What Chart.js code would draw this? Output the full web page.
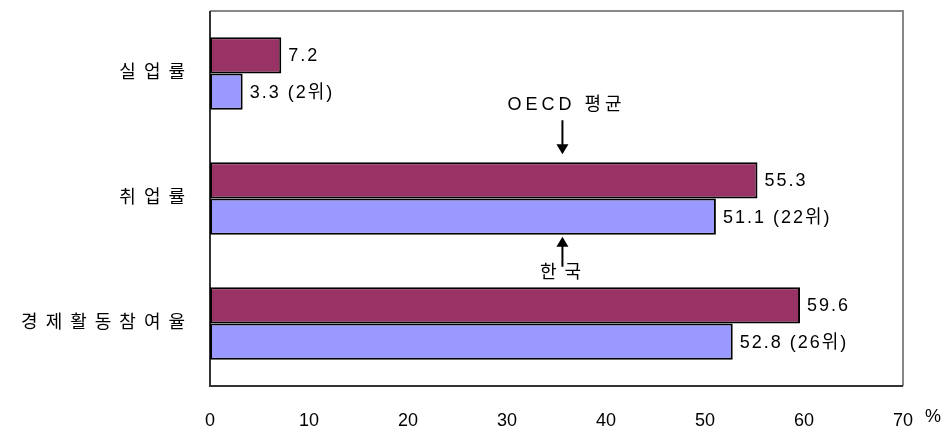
<!DOCTYPE html>
<html>
<head>
<meta charset="utf-8">
<script src="https://cdn.jsdelivr.net/npm/chart.js@4"></script>
<style>
  html, body { margin: 0; background: #fff; }
  #wrap { width: 943px; height: 428px; }
</style>
</head>
<body>
<div id="wrap"><canvas id="chart"></canvas></div>
<script>
const categories = ['실업률', '취업률', '경제활동참여율'];
const seriesNames = ['OECD 평균', '한국'];
const oecdValues = [7.2, 55.3, 59.6];
const koreaValues = [3.3, 51.1, 52.8];
const koreaRanks = ['2위', '22위', '26위'];
const xTicks = [0, 10, 20, 30, 40, 50, 60, 70];
const arrowValue = 35.6; // where the two arrows sit on the x scale

const FONT = '"Liberation Sans", "Noto Sans CJK KR", sans-serif';

// plot frame, category names, value labels and the two arrows
const decorations = {
  id: 'decorations',
  beforeDatasetsDraw(chart) {
    const { ctx, chartArea: a } = chart;
    ctx.save();
    ctx.lineWidth = 2;
    ctx.strokeStyle = '#888';
    ctx.beginPath();
    ctx.moveTo(a.left, a.top); ctx.lineTo(a.right, a.top); ctx.lineTo(a.right, a.bottom);
    ctx.stroke();
    ctx.strokeStyle = '#333';
    ctx.beginPath();
    ctx.moveTo(a.left, a.top); ctx.lineTo(a.left, a.bottom); ctx.lineTo(a.right, a.bottom);
    ctx.stroke();
    ctx.restore();
  },
  afterDatasetsDraw(chart) {
    const { ctx, chartArea: a } = chart;
    const y = chart.scales.y, x = chart.scales.x;
    ctx.save();
    ctx.fillStyle = '#000';
    ctx.textBaseline = 'middle';

    // category names
    ctx.font = '18px ' + FONT;
    ctx.letterSpacing = '8px';
    ctx.textAlign = 'right';
    categories.forEach((c, i) => {
      ctx.fillText(c, a.left - 17, y.getPixelForValue(i));
    });

    // value labels
    ctx.letterSpacing = '2px';
    ctx.textAlign = 'left';
    const m0 = chart.getDatasetMeta(0), m1 = chart.getDatasetMeta(1);
    m0.data.forEach((bar, i) => {
      ctx.fillText(oecdValues[i].toFixed(1), bar.x + 7, bar.y + 1);
    });
    m1.data.forEach((bar, i) => {
      ctx.fillText(koreaValues[i].toFixed(1) + ' (' + koreaRanks[i] + ')', bar.x + 7, bar.y + 1);
    });

    // %
    ctx.letterSpacing = '0px';
    ctx.fillText('%', a.right + 22, a.bottom + 31);

    // arrows
    const ax = x.getPixelForValue(arrowValue);
    const topBar = m0.data[1], lowBar = m1.data[1];
    const tip1 = topBar.y - topBar.height / 2 - 8;
    const tip2 = lowBar.y + lowBar.height / 2 + 2;
    ctx.strokeStyle = '#000';
    ctx.lineWidth = 2;
    ctx.beginPath();
    ctx.moveTo(ax, tip1 - 34); ctx.lineTo(ax, tip1 - 8);
    ctx.moveTo(ax, tip2 + 8); ctx.lineTo(ax, tip2 + 30);
    ctx.stroke();
    ctx.beginPath();
    ctx.moveTo(ax, tip1); ctx.lineTo(ax - 6, tip1 - 10); ctx.lineTo(ax + 6, tip1 - 10); ctx.closePath();
    ctx.moveTo(ax, tip2); ctx.lineTo(ax - 6, tip2 + 10); ctx.lineTo(ax + 6, tip2 + 10); ctx.closePath();
    ctx.fill();

    ctx.textAlign = 'center';
    ctx.letterSpacing = '4px';
    ctx.fillText(seriesNames[0], ax + 4, tip1 - 49);
    ctx.letterSpacing = '8px';
    ctx.fillText(seriesNames[1], ax + 2, tip2 + 36);
    ctx.restore();
  }
};

new Chart(document.getElementById('chart'), {
  type: 'bar',
  data: {
    labels: categories,
    datasets: [
      { label: seriesNames[0], data: oecdValues, backgroundColor: '#993366', borderColor: '#000', borderWidth: 2, borderSkipped: false },
      { label: seriesNames[1], data: koreaValues, backgroundColor: '#9999FF', borderColor: '#000', borderWidth: 2, borderSkipped: false }
    ]
  },
  options: {
    indexAxis: 'y',
    responsive: true,
    maintainAspectRatio: false,
    animation: false,
    layout: { padding: { top: 11, right: 40, left: 0, bottom: 0 } },
    datasets: { bar: { categoryPercentage: 0.58, barPercentage: 1 } },
    plugins: { legend: { display: false }, tooltip: { enabled: false } },
    scales: {
      x: {
        min: 0, max: 70,
        afterBuildTicks: s => { s.ticks = xTicks.map(v => ({ value: v })); },
        grid: { display: false, drawTicks: false },
        border: { display: false },
        ticks: { color: '#000', font: { size: 18, family: FONT }, padding: 24, maxRotation: 0 },
        afterFit: s => { s.height = 42; }
      },
      y: {
        grid: { display: false, drawTicks: false },
        border: { display: false },
        ticks: { display: false },
        afterFit: s => { s.width = 210; }
      }
    }
  },
  plugins: [decorations]
});
</script>
</body>
</html>
